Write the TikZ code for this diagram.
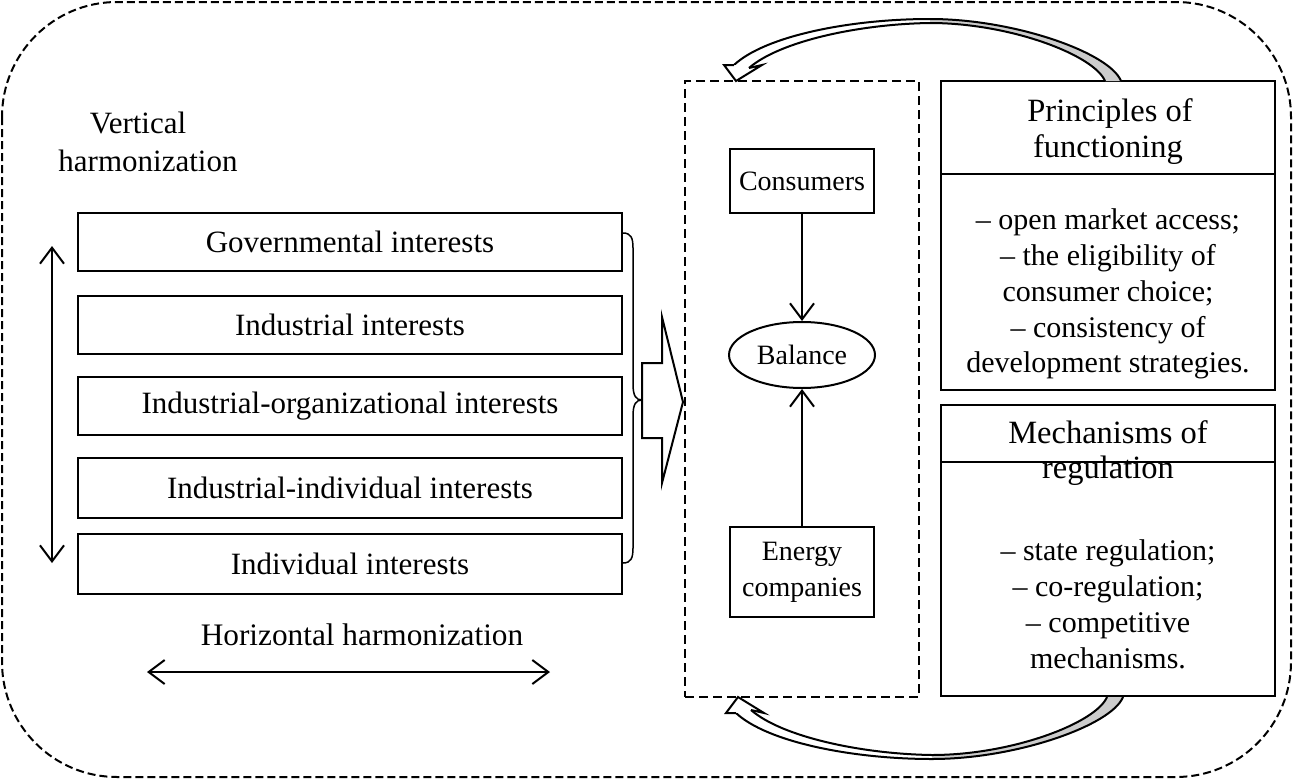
\documentclass[tikz,border=0pt]{standalone}
\usepackage{fontspec}
\setmainfont{Liberation Serif}
\usetikzlibrary{arrows.meta,shapes.geometric}
\newcommand\bentarrowshape{%
  \fill[white] (734,16) .. controls (765,45) and (850,62) .. (930,62) -- (930,58) .. controls (860,57) and (780,40) .. (749,13) -- cycle;
  \fill[gray!40] (930,62) .. controls (1015,62) and (1110,28) .. (1121,0) -- (1105,0) .. controls (1094,26) and (1010,58) .. (930,58) -- cycle;
  \draw[ln] (734,16) .. controls (765,45) and (850,62) .. (930,62) .. controls (1015,62) and (1110,28) .. (1121,0);
  \draw[ln] (749,13) .. controls (780,40) and (860,57) .. (930,58) .. controls (1010,58) and (1094,26) .. (1105,0);
  \filldraw[ln, fill=white] (734,16) -- (724,16) -- (736,0) -- (762,16) -- (749,13);
}
\begin{document}
\begin{tikzpicture}[x=1pt,y=-1pt,
  every node/.style={font=\fontsize{31}{36}\selectfont, inner sep=0pt},
  ln/.style={line width=2pt},
  box/.style={draw, line width=2pt, rectangle},
  mid text/.style={font=\fontsize{28}{36}\selectfont},
  onetip/.style={ln, -{Straight Barb[length=16pt,width=24pt,line width=2pt]}},
  twotip/.style={ln, {Straight Barb[length=16pt,width=24pt,line width=2pt]}-{Straight Barb[length=16pt,width=24pt,line width=2pt]}},
  head/.style={font=\fontsize{32.5}{37}\selectfont, anchor=base},
  body/.style={font=\fontsize{30}{36}\selectfont, anchor=base},
]
\useasboundingbox (0,0) rectangle (1293,779);
% outer frame
\draw[dash pattern=on 8pt off 4pt, line width=2pt, rounded corners=115pt] (2,2) rectangle (1291,777);

% left boxes
\node[box, minimum width=544pt, minimum height=58pt] (g1) at (350,242) {Governmental interests};
\node[box, minimum width=544pt, minimum height=58pt] (g2) at (350,325) {Industrial interests};
\node[box, minimum width=544pt, minimum height=58pt] (g3) at (350,406) {Industrial-organizational interests};
\node[box, minimum width=544pt, minimum height=60pt] (g4) at (350,488) {Industrial-individual interests};
\node[box, minimum width=544pt, minimum height=60pt] (g5) at (350,564) {Individual interests};

% vertical / horizontal harmonization
\node[anchor=base] (vh1) at (138,133) {Vertical};
\node[anchor=base] (vh2) at (148,171) {harmonization};
\coordinate (vt) at (52,246);
\coordinate (vb) at (52,563);
\draw[twotip] (vt) -- (vb);
\node[anchor=base, font=\fontsize{31.3}{36}\selectfont] (hh) at (362,645) {Horizontal harmonization};
\coordinate (hl) at (147,672);
\coordinate (hr) at (550,672);
\draw[twotip] (hl) -- (hr);

% brace
\draw[line width=1.5pt] (623,233) .. controls (631,233) and (633,238) .. (633,248) -- (633,384)
  .. controls (633,396) and (636,400) .. (642,400)
  .. controls (636,400) and (633,404) .. (633,416) -- (633,548)
  .. controls (633,558) and (631,563) .. (623,563);

% block arrow
\draw[ln, fill=white] (642,363) -- (662,363) -- (662,317) -- (683,402) -- (662,483) -- (662,438) -- (642,438) -- cycle;

% middle dashed box
\node[draw, dash pattern=on 9pt off 5pt, line width=2pt, minimum width=234pt, minimum height=616pt] (mid) at (802,389) {};
\node[box, mid text, minimum width=144pt, minimum height=64pt] (cons) at (802,181) {Consumers};
\node[draw, ellipse, mid text, line width=2pt, minimum width=146pt, minimum height=66pt] (bal) at (802,355) {Balance};
\node[box, mid text, minimum width=144pt, minimum height=90pt, align=center] (en) at (802,572) {Energy\\companies};
\draw[onetip] (cons) -- (bal);
\draw[onetip] (en) -- (bal);

% right boxes
\node[box, minimum width=334pt, minimum height=309pt] (prin) at (1108,235.5) {};
\coordinate (pd) at (0,174);
\draw[ln] (prin.west |- pd) -- (prin.east |- pd);
\node[head] (p1) at (1110,121) {Principles of};
\node[head] (p2) at (1108,157) {functioning};
\node[body] (pb1) at (1108,229) {– open market access;};
\node[body] (pb2) at (1108,265) {– the eligibility of};
\node[body] (pb3) at (1108,301) {consumer choice;};
\node[body] (pb4) at (1108,337) {– consistency of};
\node[body] (pb5) at (1108,372) {development strategies.};

\node[box, minimum width=334pt, minimum height=291pt] (mech) at (1108,550.5) {};
\coordinate (md) at (0,462);
\draw[ln] (mech.west |- md) -- (mech.east |- md);
\node[head] (m1) at (1108,443) {Mechanisms of};
\node[head] (m2) at (1108,478) {regulation};
\node[body] (mb1) at (1108,560) {– state regulation;};
\node[body] (mb2) at (1108,596) {– co-regulation;};
\node[body] (mb3) at (1108,632) {– competitive};
\node[body] (mb4) at (1108,668) {mechanisms.};

% bent arrows
\begin{scope}[shift={(0,81)}, yscale=-1]
  \bentarrowshape
\end{scope}
\begin{scope}[shift={(2,697)}]
  \bentarrowshape
\end{scope}
\end{tikzpicture}
\end{document}
